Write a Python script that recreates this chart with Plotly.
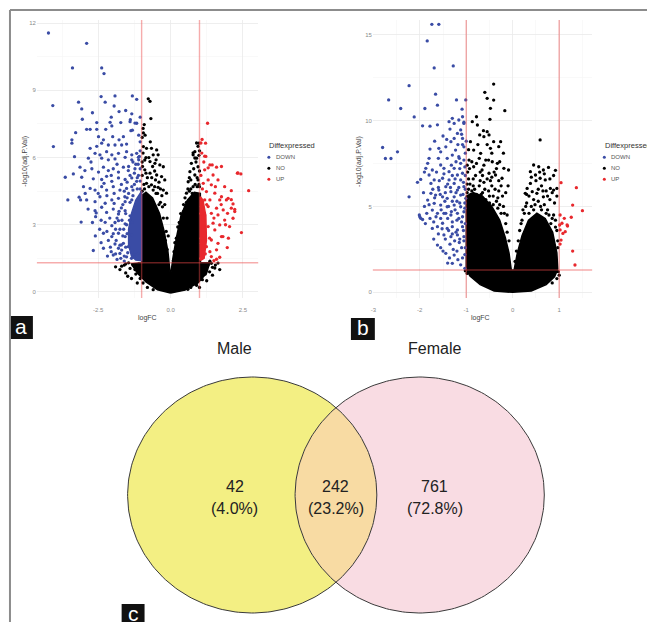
import numpy as np
import plotly.graph_objects as go

# ---------------- data ----------------
diff_categories = ["DOWN", "NO", "UP"]
legend_title = "Diffexpressed"
logfc_cutoff = 1.0
padj_cutoff = 0.05

# panel a  (logFC, -log10(adj.P.Val))
a_down_pts = [(-4.22,11.56),(-2.90,11.10),(-3.39,10.00),(-2.38,10.00),(-2.30,9.75),(-4.07,8.32),(-4.05,6.49),(-3.18,8.47),(-3.07,8.17),(-3.05,7.71),(-2.40,8.72),(-2.26,8.47),(-1.92,8.75),(-1.32,8.75),(-1.17,8.60),(-1.78,8.05),(-1.34,7.95),(-2.55,7.56),(-2.09,7.57),(-1.72,7.56),(-1.40,7.60),(-1.17,7.53),(-2.03,7.41),(-2.90,7.26),(-2.78,7.26),(-2.55,7.26),(-3.28,7.11),(-2.24,7.26),(-1.37,7.20),(-3.41,6.79),(-3.41,6.64),(-2.49,6.93),(-2.32,6.79),(-2.38,6.64),(-2.00,6.93),(-1.78,6.79),(-1.63,6.93),(-2.15,6.56),(-1.92,6.56),(-1.69,6.56),(-1.52,6.60),(-2.78,6.41),
    (-2.61,6.19),(-2.44,6.12),(-2.21,6.26),(-2.03,6.12),(-1.80,6.19),(-1.52,6.26),(-1.34,6.12),(-1.17,6.19),(-3.32,6.04),(-2.84,5.97),
    (-2.38,5.97),(-2.15,5.90),(-1.92,5.94),(-1.57,6.01),(-1.34,5.90),(-1.11,6.01),(-3.13,5.57),(-3.36,5.27),
    (-2.96,5.42),(-2.72,5.50),(-2.49,5.35),(-2.32,5.57),(-2.15,5.42),(-1.98,5.50),(-1.80,5.35),(-1.63,5.57),(-1.46,5.42),(-1.23,5.50),(-1.11,5.20),
    (-3.64,5.12),(-3.07,5.12),(-2.67,5.05),(-2.38,5.02),(-2.21,5.16),(-2.03,4.94),(-1.80,5.09),(-1.57,5.02),(-1.34,5.09),(-1.17,4.94),(-3.01,4.70),
    (-2.78,4.62),(-2.61,4.55),(-2.38,4.70),(-2.21,4.55),(-1.98,4.70),(-1.75,4.55),(-1.52,4.62),(-1.34,4.70),
    (-3.55,4.11),(-3.16,4.23),(-3.11,4.11),(-2.90,4.11),(-2.61,4.03),(-2.44,4.25),(-2.26,3.96),(-2.03,4.11),(-1.80,4.18),(-1.57,4.03),(-1.34,4.11),
    (-2.61,3.63),(-2.59,3.36),(-2.38,3.78),(-2.21,3.55),(-1.98,3.70),(-1.80,3.48),(-1.57,3.63),(-1.40,3.40),
    (-3.09,3.12),(-2.26,3.11),(-2.03,2.96),(-1.80,3.18),(-1.57,3.04),(-1.34,3.11),(-2.32,2.62),(-2.45,2.80),
    (-2.03,2.47),(-1.80,2.62),(-1.57,2.47),(-1.34,2.55),(-1.92,2.14),(-1.75,2.09),(-1.63,2.17),(-2.32,1.95),(-2.67,1.85),
    (-1.80,1.95),(-1.69,1.87),(-1.46,2.02),(-1.23,1.80),(-1.98,1.65),(-1.75,1.72),(-1.52,1.57),(-1.29,1.65),(-1.11,1.72),(-2.57,3.53),
    (-1.05,6.30),(-1.10,5.90),(-1.20,5.70),(-1.05,5.50),(-1.25,5.30),(-1.15,5.10),(-1.40,5.20),(-1.08,6.05),(-1.30,5.80),(-1.45,5.60),
    (-1.39,7.69),(-1.32,7.22),(-1.23,7.54),(-1.05,7.80),(-1.10,7.00),(-1.05,6.70),
    (-1.25,4.80),(-1.45,4.40),(-1.65,3.90),(-1.85,3.30),(-1.90,2.80),(-1.88,2.30),(-1.72,1.50),(-1.60,1.38),(-1.85,1.45),(-2.05,1.80),(-2.15,2.30),(-2.10,3.30),(-2.20,4.30),(-1.95,4.40),(-1.70,4.80),(-1.50,4.90),(-1.30,4.55),(-1.85,5.70),(-2.05,5.20),(-2.30,4.85),(-2.50,4.40),(-2.40,3.20),(-2.20,2.70),(-1.95,3.95),(-1.05,4.95),(-1.12,5.70),
    (-1.50,4.20),(-1.60,4.50),(-1.55,3.50),(-1.68,3.20),(-1.50,2.60),(-1.62,2.80),(-1.55,2.00),(-1.70,2.10),(-1.48,1.75),(-1.60,1.60),(-1.35,1.50),(-1.25,1.55),(-1.40,4.00),(-1.30,4.30),(-1.15,4.60),(-1.05,4.60),(-1.42,3.20),(-1.52,3.00),(-1.65,2.50),(-1.75,2.80),(-1.78,3.60),(-1.70,3.75),(-1.58,4.25),(-1.92,3.10),(-1.98,2.60),(-2.08,2.00),(-1.90,1.70),(-2.18,1.60),(-2.40,2.20),(-2.60,2.50),(-2.70,3.10),(-2.85,3.70),(-2.95,4.40),(-2.75,5.80),(-2.55,6.50),(-2.05,7.80),(-2.70,8.00),(-1.55,8.10),(-1.95,8.30)]
a_up_pts = [(1.28,7.53),(1.21,6.64),(1.09,6.81),(1.05,6.65),(1.18,6.06),(1.08,6.20),(1.15,5.80),(1.36,5.67),(1.44,5.67),(1.18,5.45),(1.30,5.54),(1.59,5.57),(1.76,5.60),(2.31,5.30),(2.43,5.27),(2.70,4.52),(2.45,2.65),(1.76,2.47),(1.81,2.47),(1.96,1.98),(1.41,1.58),(1.59,1.46),
    (1.47,5.22),(1.30,5.00),(1.64,5.00),(1.13,4.85),(1.41,4.78),(1.87,4.70),(2.10,4.52),(1.24,4.48),(1.53,4.41),(1.76,4.25),(1.99,4.18),(2.16,3.93),(1.93,4.11),(1.70,4.11),(1.36,4.11),(1.18,4.11),(1.07,3.81),(1.30,3.81),(1.59,3.74),(1.82,3.66),(2.10,3.74),(2.22,3.59),(1.97,3.51),(2.16,3.29),(1.64,3.44),(1.41,3.51),(1.18,3.44),(1.30,2.92),(1.53,2.77),(1.18,2.62),(1.41,2.32),(1.64,2.17),(1.24,2.02),(1.07,2.17),(1.36,1.80),(1.59,1.88),(1.13,1.58),(1.13,3.21),(1.47,3.07),(1.70,2.99),(1.87,3.21),(2.04,2.92),
    (2.22,3.68),(2.10,4.12),(2.33,5.31),(1.05,5.20),(1.10,4.60),(1.05,3.50),(1.12,2.90),(1.06,2.40),(1.10,1.90),(1.05,1.50),(1.20,1.70),(1.25,3.90),(1.22,6.05),(1.50,1.40),(1.70,1.55),(1.75,3.90),(1.55,4.70),(1.90,3.00),(2.00,2.40),(1.35,2.40),(1.50,3.30)]
a_no_pts = [(-0.77,8.62),(-0.71,8.51),(-0.68,7.74),(-0.91,7.47),(-0.94,7.10),(-0.94,6.49),(-0.83,6.41),(-0.66,6.41),(-0.48,6.34),(-0.60,6.12),(-0.43,6.12),(-0.89,5.89),(-0.71,5.82),(-0.54,5.74),(-0.37,5.67),(-0.25,5.59),(-0.89,5.45),(-0.71,5.30),(-0.48,5.22),(-0.31,5.15),(-0.20,5.00),(-0.83,4.85),(-0.66,4.78),(-0.43,4.67),(-0.25,4.55),(-0.14,4.41),(-0.95,6.20),(-0.75,6.00),(-0.55,5.40),(-0.80,5.10),(-0.40,4.90),(-0.30,4.30),(-0.90,4.60),(-0.60,4.55),(-0.98,6.90),(-0.97,5.60),(-0.52,5.00),(-0.20,3.90),(-0.12,3.30),(-0.08,2.50),(-0.35,4.00),(-0.50,4.40),
    (-0.98,4.50),(-0.92,4.80),(-0.98,5.20),(-0.85,5.30),(-0.65,5.10),(-0.75,4.70),(-0.55,4.70),(-0.45,4.40),(-0.35,4.60),(-0.28,3.80),(-0.40,3.90),(-0.25,3.30),(-0.15,2.70),(-0.18,2.30),(-0.12,1.90),(-0.98,5.80),(-0.85,6.00),(-0.62,5.60),(-0.50,5.90),(-0.70,6.70),(-0.88,7.00),(-0.95,7.30),
    (0.90,6.65),(0.95,6.50),(0.78,6.21),(0.84,5.98),(0.98,6.64),(0.84,6.26),(0.78,6.12),(0.90,5.97),(0.72,5.74),(0.95,5.59),(0.67,5.37),(0.84,5.22),(0.95,5.00),(0.61,4.92),(0.78,4.70),(0.55,4.41),(0.90,4.33),(0.70,4.60),(0.50,4.20),(0.45,3.90),(0.35,3.50),(1.00,4.70),(0.25,2.90),(0.15,2.20),(1.00,5.40),(0.65,5.10),
    (0.98,4.80),(0.92,4.70),(0.85,4.80),(0.75,4.40),(0.65,4.50),(0.55,4.00),(0.45,3.60),(0.30,3.10),(0.28,2.60),(0.20,2.40),(0.12,1.80),(0.10,1.40),(0.92,5.10),(0.80,5.50),(0.88,5.80),(0.98,6.10),(1.00,6.30),(0.70,5.00),(0.60,4.60),(0.40,3.30),
    (-1.90,1.12),(-1.48,0.70),(-1.69,1.15),(-1.23,1.00),(1.36,1.37),(1.64,1.29),(1.70,1.00),(1.53,1.07),(-1.30,1.20),(-1.40,1.05),(-1.20,0.80),(-1.05,0.60),(1.30,1.20),(1.45,1.10),(1.20,0.80),(1.10,0.55),(1.07,1.28),(1.24,1.20),(1.41,1.28),(-1.55,1.25),(-1.10,1.25),(-0.95,0.40),(0.90,0.30),(-0.60,0.10),(0.60,0.12),
    (-1.45,1.30),(-1.60,1.20),(-1.75,1.00),(-1.55,0.85),(-1.35,0.60),(-1.15,0.40),(1.15,1.25),(1.55,1.20),(1.35,0.90),(1.45,0.75),(1.25,0.50),(1.00,0.20),(-0.80,0.20),(0.70,0.20)]
# dense cores of the point clouds (outline of the solid-looking areas)
a_no_core = [(0.0,-0.05),(-0.45,0.10),(-0.85,0.45),(-1.15,0.85),(-1.35,1.25),(-1.0,1.30),(-1.0,4.3),(-0.85,4.45),(-0.62,4.2),(-0.38,3.5),(-0.22,2.7),(-0.09,1.8),(-0.02,0.9),(0.02,0.9),(0.08,1.5),(0.20,2.4),(0.36,3.4),(0.58,4.1),(0.82,4.45),(1.03,4.4),(1.03,1.30),(1.35,1.30),(1.25,0.85),(0.95,0.40),(0.50,0.08)]
a_down_core = [(-1.0,4.5),(-1.2,4.1),(-1.35,3.5),(-1.45,2.8),(-1.45,2.1),(-1.35,1.6),(-1.2,1.42),(-1.0,1.40)]
a_up_core = [(1.03,1.40),(1.16,1.50),(1.24,2.30),(1.22,3.40),(1.12,4.10),(1.03,4.25)]

# panel b
b_down_pts = [(-1.74,15.60),(-1.59,15.60),(-1.84,14.63),(-1.69,13.06),(-1.28,13.18),(-2.23,12.03),(-2.67,11.20),(-1.66,11.53),(-2.41,10.70),(-1.89,10.70),(-1.62,10.89),(-1.21,11.20),(-1.01,11.20),(-1.09,10.66),(-2.12,10.21),(-1.94,9.69),(-1.78,9.67),(-1.62,9.75),(-2.80,8.43),(-2.74,7.79),(-2.62,7.79),(-2.48,8.18),(-2.23,5.56),(-1.98,6.57),(-2.00,4.40),(-1.94,4.24),(-1.62,2.75),(-1.30,1.69),(-1.03,1.40),
    (-1.30,10.13),(-1.37,9.93),(-1.26,9.83),(-1.16,10.03),(-1.08,10.22),(-1.05,9.83),(-1.78,8.34),(-1.59,8.38),(-1.55,8.18),(-1.44,8.47),(-1.33,8.77),(-1.26,8.96),(-1.19,9.25),(-1.12,9.45),(-1.08,8.96),(-1.23,8.28),(-1.30,7.99),(-1.16,7.89),(-1.41,7.80),(-1.12,7.51),(-1.05,8.47),(-1.80,7.80),(-1.83,7.51),(-1.87,7.22),(-1.73,7.12),(-1.80,6.83),(-1.69,6.54),(-1.76,6.34),(-1.55,7.41),(-1.48,7.22),(-1.37,7.02),(-1.26,7.22),(-1.19,6.83),(-1.08,6.93),(-1.51,6.64),(-1.37,6.54),(-1.26,6.34),(-1.12,6.54),(-1.44,6.15),(-1.59,5.95),(-1.33,5.86),(-1.19,5.95),(-1.05,6.15),(-1.66,5.66),(-1.51,5.56),(-1.41,5.47),(-1.26,5.56),(-1.12,5.66),(-1.01,5.47),(-1.76,5.76),(-1.83,5.37),(-1.69,5.18),(-1.55,5.08),(-1.41,4.98),(-1.26,5.08),(-1.12,4.98),(-1.73,4.79),(-1.62,4.60),(-1.48,4.60),(-1.33,4.50),(-1.19,4.60),(-1.05,4.69),(-2.01,4.50),(-1.98,4.31),(-1.73,3.72),(-1.62,3.82),(-1.51,4.02),(-1.41,3.72),(-1.30,3.82),(-1.19,3.63),(-1.08,3.82),(-1.48,3.34),(-1.33,3.24),(-1.19,3.34),(-1.05,3.24),(-1.44,2.27),(-1.26,2.17),
    (-1.03,2.20),(-1.10,2.60),(-1.05,3.00),(-1.15,2.90),(-1.25,3.00),(-1.35,2.80),(-1.20,4.20),(-1.40,4.30),(-1.10,4.10),(-1.30,4.10),(-1.55,4.30),(-1.60,3.40),(-1.70,4.10),(-1.85,4.60),(-1.90,5.00),(-1.03,5.20),(-1.20,5.30),(-1.45,5.80),(-1.60,6.10),(-1.30,6.80),(-1.03,7.30),(-1.15,7.80),(-1.00,8.80),(-1.10,9.20),(-1.05,9.90),(-1.35,9.50),(-1.50,9.10),(-2.05,6.40),(-1.90,7.00),(-1.08,2.00),(-1.18,1.90),(-1.40,1.70),(-1.50,2.40),(-1.45,3.10),
    (-1.02,2.60),(-1.06,3.60),(-1.02,4.00),(-1.08,4.40),(-1.03,4.90),(-1.07,5.70),(-1.02,6.00),(-1.06,6.40),(-1.02,6.80),(-1.05,7.70),(-1.02,8.10),(-1.08,8.60),(-1.14,3.10),(-1.16,4.30),(-1.14,5.20),(-1.16,6.10),(-1.14,7.20),(-1.22,3.50),(-1.24,4.80),(-1.22,5.80),(-1.24,6.60),(-1.22,7.60),(-1.28,2.50),(-1.30,3.40),(-1.32,4.70),(-1.30,5.30),(-1.34,6.10),(-1.32,7.40),(-1.38,3.60),(-1.38,5.00),(-1.40,6.30),(-1.44,4.60),(-1.46,5.30),(-1.48,6.90),(-1.52,3.70),(-1.54,4.80),(-1.56,5.70),(-1.58,6.50),(-1.60,7.80),(-1.65,4.40),(-1.68,5.50),(-1.72,6.00),(-1.64,7.00),(-1.78,4.30),(-1.80,5.10),(-1.92,5.80),(-1.88,4.00),(-1.70,3.10),(-1.55,2.60),(-1.36,2.00),(-1.12,1.60),(-1.20,2.40),(-1.42,8.90),(-1.18,8.60),(-1.68,8.80)]
b_up_pts = [(1.04,6.38),(1.37,6.09),(1.29,5.08),(1.50,4.75),(1.26,4.37),(1.02,4.50),(1.11,4.31),(1.18,3.86),(1.06,4.02),(1.13,3.53),(1.02,3.63),(1.08,3.43),(1.02,2.81),(1.04,3.04),(1.17,3.92),(1.01,3.92),(1.29,2.40),(1.34,1.59)]
b_no_pts = [(-0.41,12.12),(-0.60,11.64),(-0.55,11.29),(-0.41,11.19),(-0.48,10.71),(-0.17,10.57),(-0.87,9.93),(-0.78,10.22),(-0.76,9.74),(-0.49,10.07),(0.59,8.87),(-0.63,9.41),(-0.55,9.35),(-0.51,9.16),(-0.41,8.77),(-0.26,8.77),(-0.30,8.48),(-0.48,8.38),(-0.62,9.06),(-0.71,9.16),(-0.91,8.77),(-0.84,8.28),(-0.69,8.09),(-0.58,7.70),(-0.44,7.60),(-0.33,7.51),(-0.19,7.22),(-0.09,7.12),(-0.94,7.70),(-0.84,7.31),(-0.66,7.12),(-0.51,6.93),(-0.37,6.83),(-0.23,6.64),
    (0.45,7.41),(0.56,7.31),(0.66,7.12),(0.77,7.27),(0.38,7.02),(0.49,6.83),(0.59,6.64),(0.70,6.54),(0.81,6.05),(0.88,5.95),(0.95,6.05),(0.38,6.34),(0.31,6.05),(0.27,5.76),(0.42,5.86),(0.52,5.76),(0.66,5.56),
    (-0.95,6.60),(-0.85,6.20),(-0.70,6.50),(-0.60,6.00),(-0.45,6.20),(-0.30,5.90),(-0.15,5.80),(-0.90,5.70),(-0.75,5.50),(-0.50,5.60),(-0.35,5.30),(-0.20,5.00),(-0.12,4.50),(-0.97,7.00),(-0.80,6.80),(-0.55,6.60),(-0.40,7.00),(-0.25,6.20),(-0.65,5.80),(-0.95,6.00),
    (0.30,5.20),(0.25,4.60),(0.18,4.00),(0.60,5.00),(0.75,4.80),(0.85,4.30),(0.92,3.80),(0.97,3.00),(0.45,5.40),(0.90,5.20),(0.72,5.90),(0.62,6.20),(0.80,5.40),
    (-1.02,1.25),(-0.98,1.10),(0.98,1.20),(1.00,1.00),(0.95,0.80),(0.85,0.55),(-0.20,8.10),(-0.10,6.20),
    (-0.98,5.80),(-0.92,6.30),(-0.88,5.90),(-0.82,6.00),(-0.78,5.70),(-0.72,6.20),(-0.68,5.70),(-0.62,6.40),(-0.58,5.40),(-0.52,5.90),(-0.48,6.50),(-0.42,5.60),(-0.38,6.00),(-0.32,5.50),(-0.28,5.10),(-0.22,5.60),(-0.18,4.60),(-0.15,4.00),(-0.12,3.50),(-0.08,3.00),(-0.98,7.40),(-0.93,7.20),(-0.88,7.60),(-0.78,7.50),(-0.72,7.80),(-0.62,7.40),(-0.52,7.70),(-0.45,8.10),(-0.35,7.20),(-0.28,7.60),(-0.55,8.60),(-0.75,8.60),(-0.95,8.30),(-0.65,6.80),(-0.45,6.70),(-0.30,6.50),(-0.85,6.60),(-0.70,7.00),(-0.98,6.30),(-0.95,5.50),(-0.25,4.60),(-0.32,4.90),(-0.42,5.10),(-0.50,5.20),
    (0.22,4.80),(0.28,5.00),(0.35,4.60),(0.40,5.00),(0.48,5.10),(0.55,5.30),(0.62,4.80),(0.68,5.10),(0.72,4.60),(0.78,4.50),(0.82,4.00),(0.88,4.50),(0.92,4.20),(0.95,3.60),(0.97,2.60),(0.95,5.60),(0.85,5.80),(0.75,5.60),(0.65,5.90),(0.55,6.00),(0.50,6.50),(0.40,6.70),(0.35,5.60),(0.30,5.70),(0.20,4.20),(0.15,3.60),(0.12,3.00),(0.08,2.40),(0.05,1.80),(0.88,6.80),(0.92,7.10),(0.80,6.60),(0.68,6.90),(0.58,7.00),(0.45,4.80)]
b_no_core = [(0.0,0.0),(-0.40,0.08),(-0.70,0.45),(-0.92,0.95),(-1.0,1.35),(-1.0,5.6),(-0.85,5.8),(-0.65,5.6),(-0.45,5.0),(-0.28,4.2),(-0.16,3.2),(-0.08,2.3),(-0.03,1.3),(0.03,1.3),(0.10,2.3),(0.20,3.3),(0.34,4.2),(0.52,4.6),(0.70,4.3),(0.86,3.5),(0.95,2.3),(0.97,1.35),(0.90,0.90),(0.72,0.45),(0.40,0.08)]

# panel c  (Venn)
venn_sets = ["Male", "Female"]
venn_counts = [42, 242, 761]   # Male only, both, Female only

# ---------------- figure ----------------
W, H = 647, 622
FONT = "Liberation Sans, Arial, sans-serif"
BLUE, RED, BLACK = "#3A4CA5", "#E8282D", "#000000"
CAT_COL = {"DOWN": BLUE, "NO": BLACK, "UP": RED}
MS = 3.3


def fx(p):
    return p / W


def fy(p):
    return 1 - p / H


def unzip(pts):
    return [p[0] for p in pts], [p[1] for p in pts]


def note(xp, yp, text, size, color, xanchor="center", **kw):
    return dict(x=fx(xp), y=fy(yp), xref="paper", yref="paper", text=text, showarrow=False,
                xanchor=xanchor, yanchor="middle", font=dict(size=size, color=color, family=FONT), **kw)


fig = go.Figure()


def add_panel(xa, ya, layers):
    for core, pts, cat in layers:
        col = CAT_COL[cat]
        if core:
            cx, cy = unzip(core)
            fig.add_trace(go.Scatter(x=cx + [cx[0]], y=cy + [cy[0]], fill="toself", fillcolor=col,
                                     mode="lines", line=dict(width=1.5, color=col),
                                     xaxis=xa, yaxis=ya, hoverinfo="skip", showlegend=False))
        x, y = unzip(pts)
        fig.add_trace(go.Scatter(x=x, y=y, mode="markers", name=cat,
                                 marker=dict(size=MS, color=col, line=dict(width=0)),
                                 xaxis=xa, yaxis=ya, showlegend=False))


add_panel("x", "y", [(a_no_core, a_no_pts, "NO"), (a_down_core, a_down_pts, "DOWN"), (a_up_core, a_up_pts, "UP")])
add_panel("x2", "y2", [(b_no_core, b_no_pts, "NO"), (None, b_down_pts, "DOWN"), (None, b_up_pts, "UP")])

# ---- Venn (panel c), geometry in a pixel-like coordinate system ----
VTOP = 342  # top of the venn subplot area (px)
c1x, c2x, ccy, rx, ry = 251.0, 419.0, 495.0, 125.0, 118.0
th = np.linspace(0, 2 * np.pi, 240)
outline = "#3a3a3a"
for cx, col in [(c1x, "#F3EF83"), (c2x, "#F9DCE3")]:
    fig.add_trace(go.Scatter(x=cx + rx * np.cos(th), y=ccy + ry * np.sin(th), mode="lines", fill="toself",
                             fillcolor=col, line=dict(width=0), xaxis="x3", yaxis="y3",
                             hoverinfo="skip", showlegend=False))
xm = (c1x + c2x) / 2
alpha = np.arccos((xm - c1x) / rx)
t1 = np.linspace(-alpha, alpha, 80)
t2 = np.linspace(np.pi - alpha, np.pi + alpha, 80)
lx = np.concatenate([c1x + rx * np.cos(t1), c2x + rx * np.cos(t2)])
ly = np.concatenate([ccy + ry * np.sin(t1), ccy + ry * np.sin(t2)])
fig.add_trace(go.Scatter(x=lx, y=ly, mode="lines", fill="toself", fillcolor="#F8DBA3",
                         line=dict(width=0), xaxis="x3", yaxis="y3", hoverinfo="skip", showlegend=False))
for cx in (c1x, c2x):
    fig.add_trace(go.Scatter(x=cx + rx * np.cos(th), y=ccy + ry * np.sin(th), mode="lines",
                             line=dict(width=1, color=outline), xaxis="x3", yaxis="y3",
                             hoverinfo="skip", showlegend=False))

total = sum(venn_counts)
region_x = [c1x - 0.14 * rx, xm, c2x + 0.12 * rx]
annotations = []
for cnt, rxp in zip(venn_counts, region_x):
    annotations.append(note(rxp, 486, str(cnt), 16, "#222"))
    annotations.append(note(rxp, 508.5, f"({100 * cnt / total:.1f}%)", 16, "#222"))
for name, tx in zip(venn_sets, [region_x[0], region_x[2]]):
    annotations.append(note(tx, 349, name, 16, "#222"))

# ---- volcano axes ----
grid_major, grid_minor = "#EAEAEA", "#F5F5F5"
tickf = dict(size=6, color="#8a8a8a", family=FONT)


def ax(domain, rng, tv, tt, minor_vals, anchor):
    return dict(domain=domain, range=rng, tickvals=tv, ticktext=tt, showgrid=True, gridcolor=grid_major,
                gridwidth=0.8, zeroline=False, showline=False, ticks="", tickfont=tickf, anchor=anchor,
                minor=dict(tickvals=minor_vals, showgrid=True, gridcolor=grid_minor, gridwidth=0.6),
                fixedrange=True)


ydom = [fy(298), fy(20)]
layout_axes = dict(
    xaxis=ax([fx(35), fx(257)], [-4.62, 3.03], [-2.5, 0, 2.5], ["-2.5", "0.0", "2.5"], [-3.75, -1.25, 1.25], "y"),
    yaxis=ax(ydom, [-0.27, 12.14], [0, 3, 6, 9, 12], ["0", "3", "6", "9", "12"], [1.5, 4.5, 7.5, 10.5], "x"),
    xaxis2=ax([fx(372), fx(592)], [-3.01, 1.71], [-3, -2, -1, 0, 1], ["-3", "-2", "-1", "0", "1"], [-2.5, -1.5, -0.5, 0.5, 1.5], "y2"),
    yaxis2=ax(ydom, [-0.33, 15.85], [0, 5, 10, 15], ["0", "5", "10", "15"], [2.5, 7.5, 12.5], "x2"),
    xaxis3=dict(domain=[fx(60), fx(600)], range=[60, 600], visible=False, anchor="y3", fixedrange=True),
    yaxis3=dict(domain=[0, fy(VTOP)], range=[H, VTOP], visible=False, anchor="x3", fixedrange=True),
)
layout_axes["xaxis"]["ticklabelstandoff"] = 7
layout_axes["xaxis2"]["ticklabelstandoff"] = 7

# threshold lines
shapes = []
ycut = -np.log10(padj_cutoff)
line_col = "rgba(236,70,70,0.45)"
for xa, ya in [("x", "y"), ("x2", "y2")]:
    for v in (-logfc_cutoff, logfc_cutoff):
        shapes.append(dict(type="line", xref=xa, yref=f"{ya} domain", x0=v, x1=v, y0=0, y1=1,
                           line=dict(color=line_col, width=1.4), layer="above"))
    shapes.append(dict(type="line", xref=f"{xa} domain", yref=ya, x0=0, x1=1, y0=ycut, y1=ycut,
                       line=dict(color=line_col, width=1.4), layer="above"))

# axis titles
for cxp in (146, 480):
    annotations.append(note(cxp, 318, "logFC", 7, "#444"))
for cxp in (22.7, 358):
    annotations.append(note(cxp, 161, "-log10(adj.P.Val)", 7, "#444", textangle=-90))

# legends (hand-drawn, ggplot style)
for lx0 in (266, 602.5):
    annotations.append(note(lx0, 145, legend_title, 7.5, "#333", xanchor="left"))
    for i, cat in enumerate(diff_categories):
        yy = 157.3 + 11 * i
        shapes.append(dict(type="circle", xref="paper", yref="paper", x0=fx(lx0 + 0.2), x1=fx(lx0 + 3.2),
                           y0=fy(yy + 1.5), y1=fy(yy - 1.5), fillcolor=CAT_COL[cat], line=dict(width=0)))
        annotations.append(note(lx0 + 6.5, yy, cat, 6, "#555", xanchor="left"))

# panel labels
for lab, (x0, x1, y0, y1) in zip(["a", "b", "c"], [(8, 31, 316, 339), (350, 374, 318, 340), (120, 143, 604, 626)]):
    shapes.append(dict(type="rect", xref="paper", yref="paper", x0=fx(x0), x1=fx(x1), y0=fy(y1), y1=fy(y0),
                       fillcolor="#111", line=dict(width=0)))
    annotations.append(note((x0 + x1) / 2, (y0 + y1) / 2 - 1.5, lab, 21, "white"))

# frame
shapes.append(dict(type="line", xref="paper", yref="paper", x0=fx(8), x1=fx(647), y0=fy(10), y1=fy(10),
                   line=dict(color="#8c8c8c", width=2)))
shapes.append(dict(type="line", xref="paper", yref="paper", x0=fx(8), x1=fx(8), y0=fy(10), y1=fy(622),
                   line=dict(color="#8c8c8c", width=2)))

fig.update_layout(width=W, height=H, margin=dict(l=0, r=0, t=0, b=0), paper_bgcolor="white",
                  plot_bgcolor="rgba(0,0,0,0)", showlegend=False, shapes=shapes, annotations=annotations,
                  font=dict(family=FONT), **layout_axes)
fig.write_html("out.html", config={"displayModeBar": False, "staticPlot": True},
               post_script="document.body.style.margin='0px';document.body.style.padding='0px';")
